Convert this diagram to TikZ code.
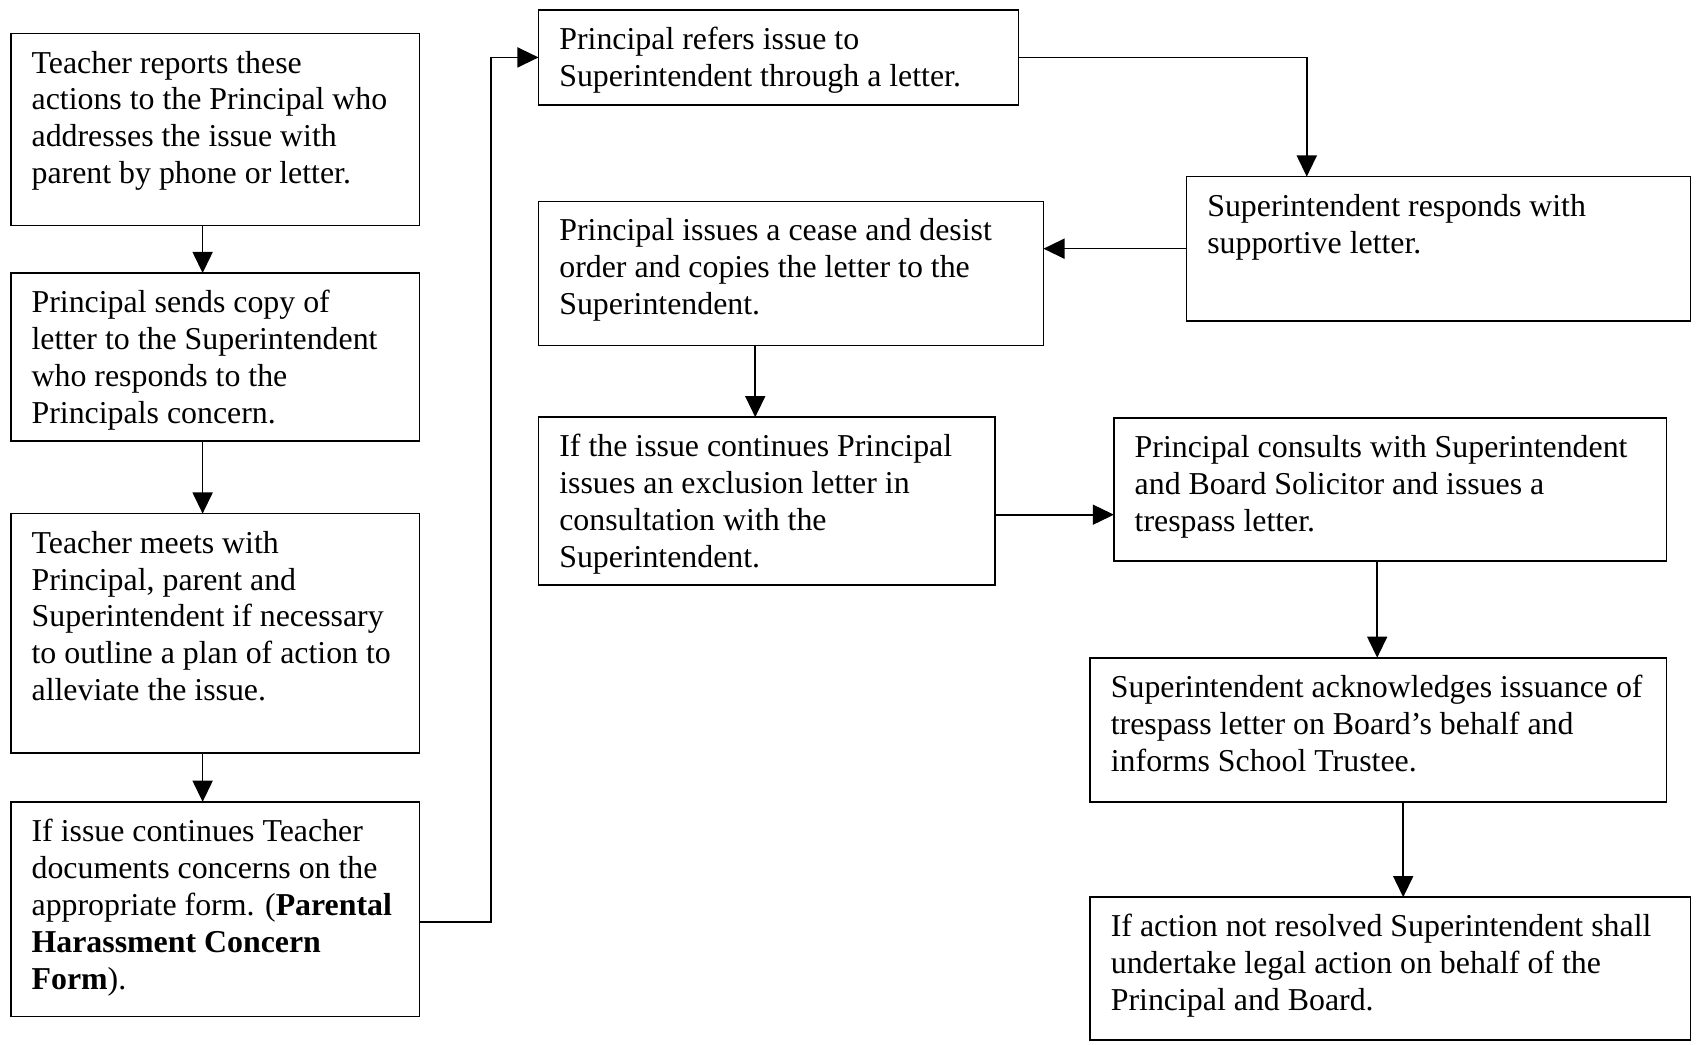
\documentclass[tikz,border=0pt]{standalone}
\usepackage{fontspec}
\setmainfont{Liberation Serif}
\usetikzlibrary{arrows.meta}
\begin{document}
\begin{tikzpicture}[x=1pt,y=-1pt,
 box/.style={draw, line width=1.5pt, inner sep=0pt, outer sep=0pt, anchor=north west},
 txt/.style={anchor=base west, inner sep=0pt, font=\fontsize{29.4pt}{34.1pt}\selectfont},
 arr/.style={line width=1.5pt, -{Triangle[length=19.5pt,width=18.5pt]}}]
\useasboundingbox (0,0) rectangle (1568,964);
% boxes
\node[box, minimum width=377pt, minimum height=177pt] (A) at (10,31) {};
\node[box, minimum width=377pt, minimum height=155pt] (B) at (10,252) {};
\node[box, minimum width=377pt, minimum height=221pt] (C) at (10,474) {};
\node[box, minimum width=377pt, minimum height=198pt] (Fm) at (10,740) {};
\node[box, minimum width=443pt, minimum height=88pt] (D) at (497,9) {};
\node[box, minimum width=465pt, minimum height=133pt] (E) at (1095,163) {};
\node[box, minimum width=466pt, minimum height=133pt] (F) at (497,186) {};
\node[box, minimum width=421pt, minimum height=155pt] (G) at (497,385) {};
\node[box, minimum width=510pt, minimum height=132pt] (H) at (1028,386) {};
\node[box, minimum width=532pt, minimum height=133pt] (I) at (1006,607) {};
\node[box, minimum width=554pt, minimum height=132pt] (J) at (1006,828) {};
% texts
\node[txt] (At) at (29,67.4) {\parbox[t]{600pt}{Teacher reports these\\actions to the Principal who\\addresses the issue with\\parent by phone or letter.}};
\node[txt] (Bt) at (29,288.4) {\parbox[t]{600pt}{Principal sends copy of\\letter to the Superintendent\\who responds to the\\Principals concern.}};
\node[txt] (Ct) at (29,510.4) {\parbox[t]{600pt}{Teacher meets with\\Principal, parent and\\Superintendent if necessary\\to outline a plan of action to\\alleviate the issue.}};
\node[txt] (Fmt) at (29,776.4) {\parbox[t]{600pt}{If issue continues Teacher\\documents concerns on the\\appropriate form. (\textbf{Parental}\\\textbf{Harassment Concern}\\\textbf{Form}).}};
\node[txt] (Dt) at (516,45.4) {\parbox[t]{600pt}{Principal refers issue to\\Superintendent through a letter.}};
\node[txt] (Et) at (1114,199.4) {\parbox[t]{600pt}{Superintendent responds with\\supportive letter.}};
\node[txt] (Ft) at (516,222.4) {\parbox[t]{600pt}{Principal issues a cease and desist\\order and copies the letter to the\\Superintendent.}};
\node[txt] (Gt) at (516,421.4) {\parbox[t]{600pt}{If the issue continues Principal\\issues an exclusion letter in\\consultation with the\\Superintendent.}};
\node[txt] (Ht) at (1047,422.4) {\parbox[t]{600pt}{Principal consults with Superintendent\\and Board Solicitor and issues a\\trespass letter.}};
\node[txt] (It) at (1025,643.4) {\parbox[t]{600pt}{Superintendent acknowledges issuance of\\trespass letter on Board’s behalf and\\informs School Trustee.}};
\node[txt] (Jt) at (1025,864.4) {\parbox[t]{600pt}{If action not resolved Superintendent shall\\undertake legal action on behalf of the\\Principal and Board.}};
% connectors
\draw[arr] ([xshift=177pt]A.south west) -- ([xshift=177pt]B.north west);
\draw[arr] ([xshift=177pt]B.south west) -- ([xshift=177pt]C.north west);
\draw[arr] ([xshift=177pt]C.south west) -- ([xshift=177pt]Fm.north west);
\coordinate (k1) at (453,851);
\draw[arr] ([yshift=-12pt]Fm.east) -- (k1) |- (D.west);
\draw[arr] (D.east) -| ([xshift=111pt]E.north west);
\draw[arr] (E.west) -- (E.west -| F.east);
\draw[arr] ([xshift=200pt]F.south west) -- ([xshift=200pt]G.north west);
\draw[arr] ([yshift=-12.5pt]G.east) -- ([yshift=-12.5pt]G.east -| H.west);
\draw[arr] ([xshift=243pt]H.south west) -- ([xshift=265pt]I.north west);
\draw[arr] ([xshift=289pt]I.south west) -- ([xshift=289pt]J.north west);
\end{tikzpicture}
\end{document}
